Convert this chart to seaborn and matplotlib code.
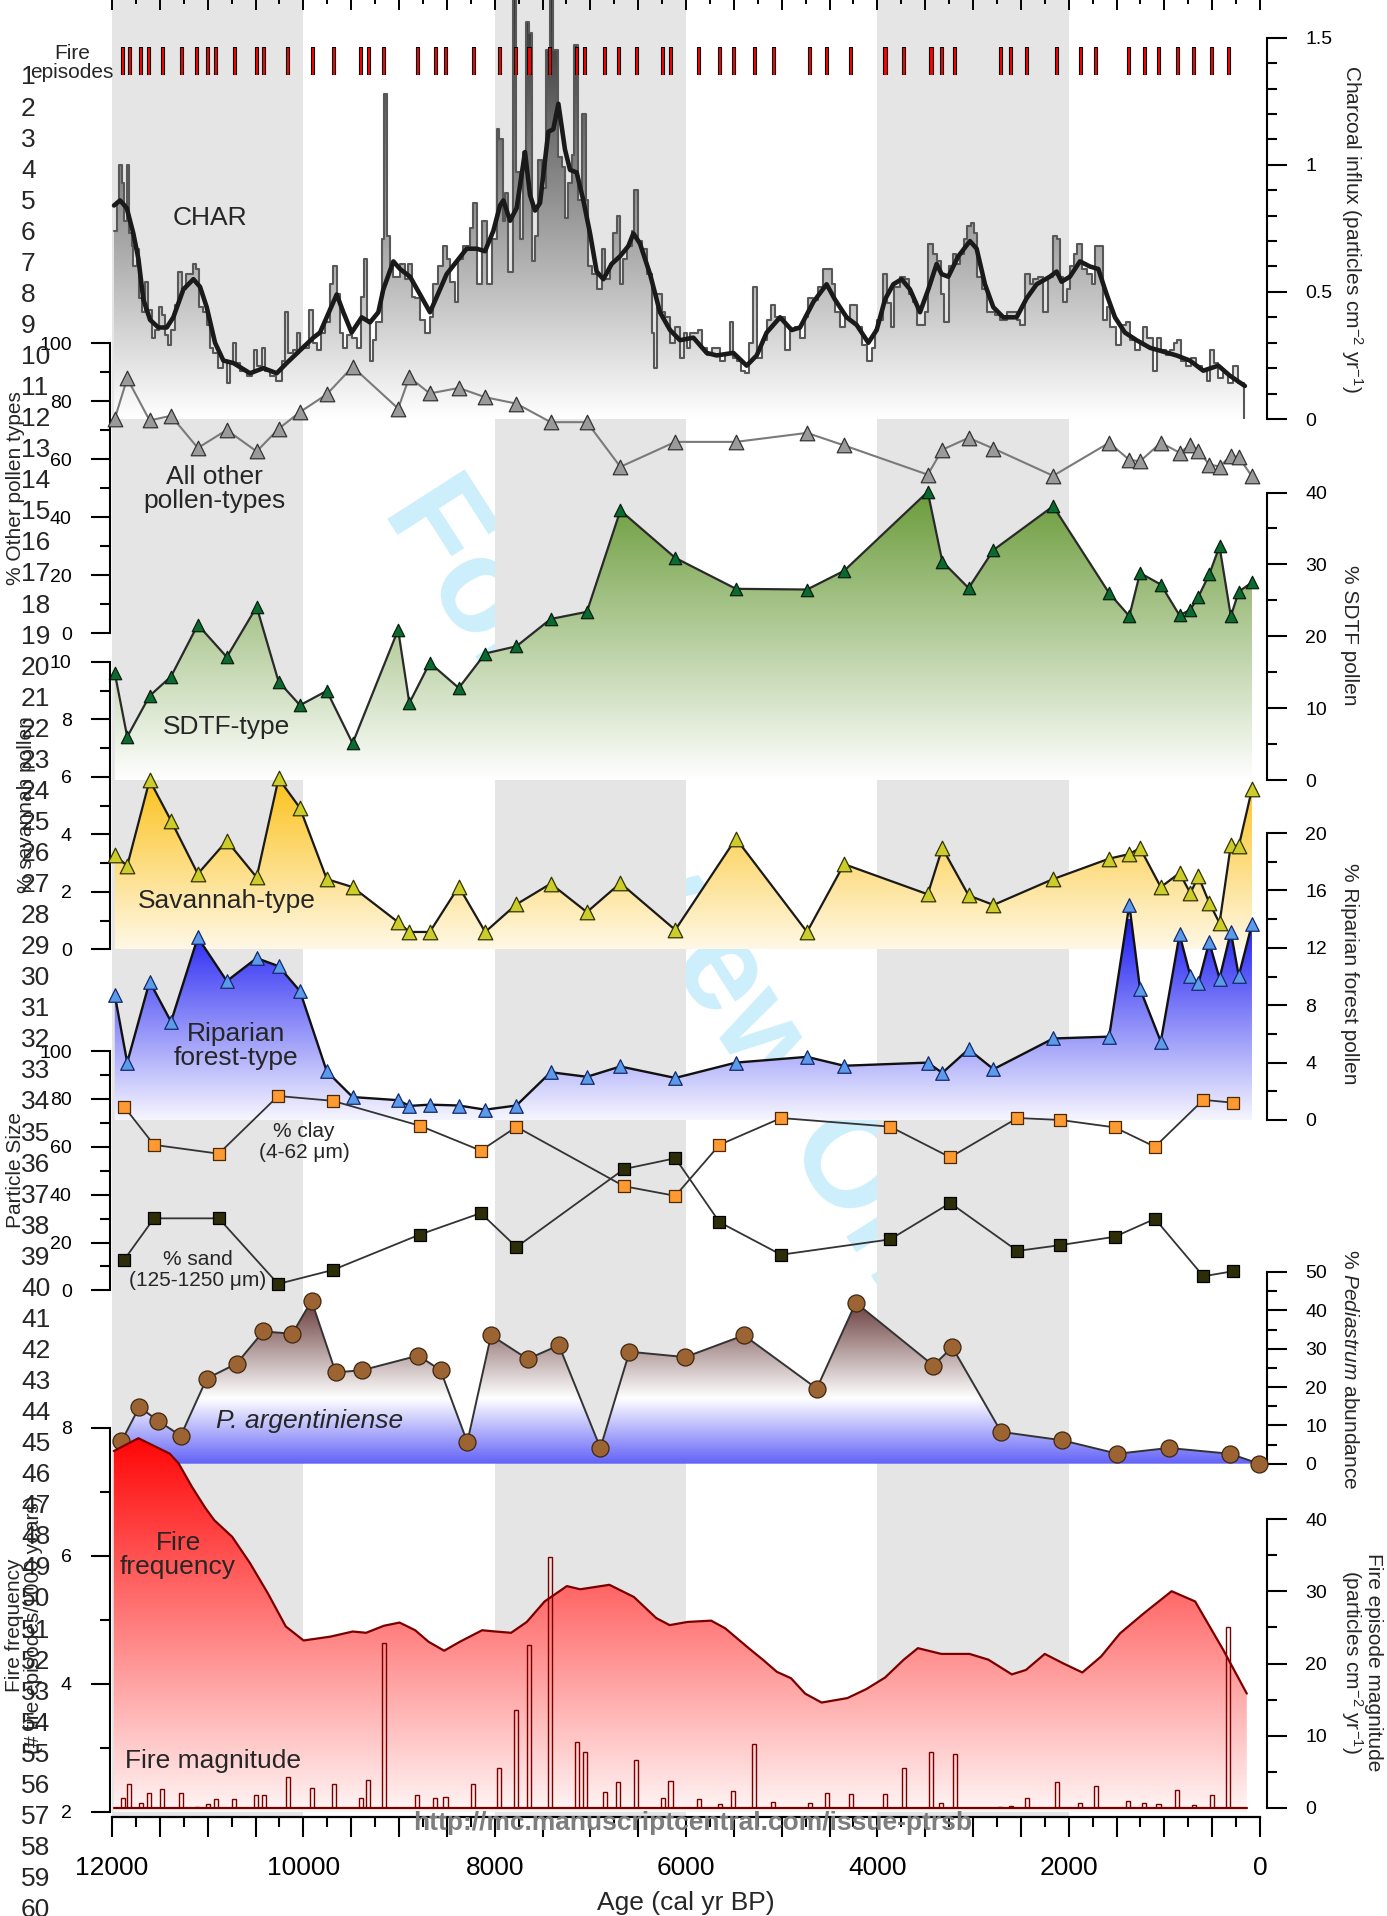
import numpy as np
import matplotlib
matplotlib.use('Agg')
import matplotlib.pyplot as plt
import seaborn as sns
from matplotlib.colors import LinearSegmentedColormap
from matplotlib.ticker import MultipleLocator, FixedLocator, FuncFormatter

# ---------------- data ----------------
band_ranges = [(12000, 10000), (8000, 6000), (4000, 2000)]

fire_age = [11888, 11818, 11701, 11617, 11477, 11276, 11113, 11001, 10917, 10721, 10492, 10413, 10161, 9905,
            9681, 9401, 9321, 9158, 8808, 8621, 8514, 8224, 7954, 7781, 7641, 7422, 7142, 7058, 6848, 6708,
            6521, 6241, 6162, 5868, 5649, 5507, 5286, 5089, 4706, 4529, 4279, 3920, 3724, 3439, 3331, 3193,
            2717, 2604, 2437, 2127, 1877, 1719, 1376, 1208, 1061, 865, 693, 506, 334]
fire_mag = [1.4, 3.3, 0.7, 2.1, 2.6, 2.1, 0.1, 0.5, 1.2, 1.2, 1.7, 1.7, 4.2, 2.8, 3.3, 1.3, 3.8, 22.9, 1.8, 1.3,
            1.5, 3.3, 5.5, 13.6, 22.5, 34.8, 9.1, 7.7, 2.2, 3.5, 6.6, 1.3, 3.7, 1.2, 0.5, 2.3, 8.9, 0.8, 0.7, 2.1,
            1.9, 1.9, 5.5, 7.7, 0.7, 7.4, 0.1, 0.2, 1.4, 3.5, 0.7, 3.0, 0.9, 0.7, 0.5, 2.5, 0.4, 1.7, 25.0]

char_age = [11979, 11951, 11923, 11899, 11874, 11846, 11818, 11794, 11777, 11742, 11714, 11690, 11655, 11620,
            11585, 11550, 11505, 11480, 11446, 11411, 11386, 11341, 11306, 11271, 11226, 11156, 11122, 11087,
            11045, 11010, 10975, 10940, 10888, 10843, 10801, 10766, 10738, 10704, 10662, 10592, 10540, 10515,
            10488, 10435, 10400, 10348, 10285, 10226, 10191, 10157, 10104, 10062, 10035, 9937, 9895, 9853, 9819,
            9773, 9721, 9686, 9644, 9617, 9582, 9540, 9495, 9442, 9401, 9366, 9338, 9303, 9275, 9240, 9181,
            9157, 9122, 9094, 9059, 8989, 8937, 8902, 8867, 8833, 8780, 8728, 8676, 8641, 8589, 8537, 8502,
            8467, 8415, 8380, 8327, 8258, 8223, 8188, 8136, 8084, 8031,
            7979, 7951, 7916, 7892, 7857, 7812, 7777, 7735, 7700, 7672, 7637, 7613, 7578, 7543, 7508, 7463,
            7421, 7387, 7334, 7299, 7265, 7230, 7195, 7167, 7125, 7090, 7045, 7021, 6986, 6934, 6881, 6846,
            6794, 6759, 6725, 6690, 6655, 6620, 6568, 6543, 6498, 6463, 6411, 6359, 6334, 6299, 6254, 6219,
            6167, 6115, 6063, 6021, 5986, 5958, 5871, 5836, 5784, 5732, 5645, 5592, 5540, 5512, 5470, 5429,
            5383, 5338, 5296, 5261, 5209, 5157, 5115, 5070, 4965, 4913, 4861, 4808, 4756, 4721, 4669, 4617,
            4565, 4477, 4443, 4390, 4338, 4286, 4216, 4164, 4112, 4059,
            4025, 4000, 3945, 3896, 3861, 3826, 3763, 3711, 3666, 3631, 3582, 3502, 3467, 3415, 3380, 3338,
            3304, 3248, 3213, 3178, 3136, 3095, 3060, 3025, 2990, 2962, 2910, 2858, 2770, 2718, 2649, 2544,
            2509, 2457, 2405, 2370, 2318, 2265, 2213, 2161, 2126, 2091, 2063, 2021, 1987, 1945, 1910, 1865,
            1812, 1760, 1725, 1638, 1603, 1568, 1506, 1457, 1401, 1359, 1307, 1255, 1220, 1178, 1116, 1081,
            1035, 983, 941, 899, 872, 830, 774, 725, 670, 610, 558, 523, 481, 436, 384, 332, 280, 227]
char_val = [0.74, 0.85, 1.0, 0.93, 0.78, 1.0, 0.73, 0.68, 0.60, 0.67, 0.475, 0.42, 0.54, 0.43,
            0.32, 0.35, 0.44, 0.41, 0.33, 0.29, 0.35, 0.45, 0.58, 0.51, 0.57, 0.61, 0.59, 0.44,
            0.42, 0.37, 0.28, 0.26, 0.20, 0.23, 0.14, 0.22, 0.30, 0.22, 0.19, 0.17, 0.18, 0.27,
            0.21, 0.28, 0.19, 0.17, 0.15, 0.23, 0.42, 0.26, 0.27, 0.34, 0.28, 0.43, 0.30, 0.27, 0.34,
            0.38, 0.53, 0.60, 0.49, 0.34, 0.28, 0.33, 0.32, 0.28, 0.48, 0.63, 0.39, 0.23, 0.31, 0.38, 0.71,
            1.28, 0.72, 0.60, 0.56, 0.61, 0.55, 0.61, 0.48, 0.475, 0.39, 0.34, 0.40, 0.53, 0.60, 0.68, 0.63,
            0.54, 0.46, 0.63, 0.68, 0.75, 0.85, 0.53, 0.78, 0.53, 0.71,
            1.14, 1.10, 0.78, 0.89, 0.58, 1.9, 0.97, 0.71, 1.05, 1.56, 1.52, 0.62, 0.72, 1.02, 0.91, 1.45,
            1.8, 1.45, 1.03, 0.99, 0.79, 0.93, 1.04, 1.47, 0.86, 1.20, 0.86, 0.60, 0.57, 0.51, 0.67, 0.55,
            0.61, 0.73, 0.80, 0.53, 0.63, 0.68, 0.74, 0.90, 0.70, 0.67, 0.57, 0.34, 0.20, 0.49, 0.42, 0.40,
            0.30, 0.36, 0.24, 0.34, 0.28, 0.34, 0.35, 0.28, 0.25, 0.28, 0.23, 0.26, 0.38, 0.24, 0.23, 0.19,
            0.18, 0.30, 0.52, 0.24, 0.31, 0.39, 0.45, 0.40, 0.27, 0.35, 0.36, 0.32, 0.40, 0.475, 0.47, 0.52,
            0.59, 0.53, 0.42, 0.36, 0.40, 0.45, 0.36, 0.29, 0.23, 0.28,
            0.35, 0.39, 0.57, 0.455, 0.36, 0.52, 0.56, 0.55, 0.49, 0.46, 0.37, 0.42, 0.69, 0.65, 0.62, 0.49,
            0.38, 0.60, 0.65, 0.61, 0.65, 0.71, 0.76, 0.77, 0.73, 0.56, 0.51, 0.42, 0.41, 0.39, 0.42, 0.39,
            0.37, 0.57, 0.53, 0.55, 0.56, 0.42, 0.56, 0.72, 0.71, 0.56, 0.46, 0.51, 0.60, 0.65, 0.69, 0.59,
            0.57, 0.53, 0.68, 0.39, 0.44, 0.36, 0.29, 0.37, 0.38, 0.31, 0.27, 0.30, 0.36, 0.32, 0.19, 0.32,
            0.27, 0.25, 0.27, 0.30, 0.31, 0.23, 0.21, 0.24, 0.21, 0.19, 0.15, 0.27, 0.22, 0.16, 0.18, 0.14, 0.21, 0.14]
char_end_age = 168

char_smooth_age = [11979, 11916, 11846, 11777, 11724, 11672, 11602, 11515, 11428, 11359, 11254, 11149, 11080,
                   11010, 10923, 10836, 10731, 10557, 10418, 10278, 10174, 10035, 9895, 9826, 9721, 9651, 9582,
                   9495, 9390, 9303, 9216, 9164, 9059, 8989, 8885, 8780, 8676, 8606, 8502, 8397, 8293, 8188,
                   8101, 8014, 7944, 7909, 7839, 7770, 7683, 7630, 7578, 7526, 7439, 7387, 7334, 7265, 7212,
                   7143, 7073, 7003, 6934, 6864, 6777, 6690, 6603, 6550, 6481, 6376, 6272, 6167, 6063, 5923,
                   5784, 5679, 5505, 5366, 5261, 5157, 5017, 4895, 4808, 4669, 4530, 4443, 4321, 4216, 4094,
                   4007, 3920, 3833, 3746, 3659, 3554, 3467, 3380, 3328, 3258, 3154, 3032, 2962, 2875, 2788,
                   2683, 2544, 2439, 2335, 2196, 2126, 2074, 1987, 1882, 1778, 1690, 1603, 1516, 1412, 1290,
                   1150, 1011, 872, 733, 593, 436, 314, 158]
char_smooth_val = [0.84, 0.86, 0.83, 0.73, 0.63, 0.47, 0.39, 0.36, 0.36, 0.40, 0.51, 0.55, 0.52,
                   0.44, 0.30, 0.23, 0.22, 0.18, 0.20, 0.18, 0.22, 0.27, 0.32, 0.34, 0.43, 0.49, 0.42,
                   0.34, 0.40, 0.38, 0.42, 0.51, 0.62, 0.59, 0.56, 0.49, 0.42, 0.48, 0.57, 0.62, 0.67, 0.67,
                   0.66, 0.74, 0.84, 0.86, 0.78, 0.83, 1.05, 0.88, 0.82, 0.85, 1.13, 1.14, 1.24, 1.06, 0.98,
                   0.97, 0.86, 0.73, 0.58, 0.55, 0.61, 0.64, 0.68, 0.73, 0.69, 0.57, 0.42, 0.35, 0.31, 0.32,
                   0.26, 0.25, 0.26, 0.21, 0.25, 0.34, 0.40, 0.35, 0.36, 0.46, 0.53, 0.47, 0.40, 0.37, 0.30,
                   0.35, 0.47, 0.53, 0.55, 0.51, 0.42, 0.51, 0.61, 0.57, 0.56, 0.64, 0.70, 0.67, 0.53, 0.44,
                   0.40, 0.40, 0.475, 0.53, 0.56, 0.58, 0.54, 0.56, 0.62, 0.60, 0.59, 0.49, 0.40, 0.34, 0.31,
                   0.28, 0.265, 0.25, 0.23, 0.19, 0.21, 0.17, 0.13]

pollen_age = [11971, 11841, 11607, 11383, 11103, 10800, 10488, 10259, 10035, 9755, 9485, 9009, 8892, 8678,
              8375, 8099, 7773, 7414, 7036, 6686, 6112, 5478, 4735, 4348, 3473, 3321, 3046, 2786, 2162, 1577,
              1366, 1254, 1037, 841, 728, 644, 531, 423, 305, 222, 84]
other_pct = [73.9, 87.8, 73.3, 74.9, 63.8, 70.0, 62.6, 70.4, 76.2, 82.3, 91.8, 77.4, 88.2, 82.6, 84.5, 81.3,
             79.1, 72.7, 72.7, 57.3, 65.9, 65.9, 69.0, 64.7, 54.6, 63.2, 67.3, 63.6, 54.2, 65.6, 59.7, 59.2,
             65.6, 62.2, 64.8, 62.9, 58.1, 57.4, 61.1, 60.6, 54.0]
sdtf_pct = [14.9, 6.0, 11.7, 14.4, 21.6, 17.1, 24.1, 13.7, 10.4, 12.4, 5.1, 20.9, 10.7, 16.3, 12.8, 17.6,
            18.6, 22.4, 23.4, 37.5, 30.9, 26.6, 26.5, 29.1, 40.1, 30.4, 26.7, 32.0, 38.1, 26.0, 22.8, 28.8,
            27.2, 22.9, 23.7, 25.5, 28.6, 32.5, 22.8, 26.2, 27.5]
savannah_pct = [3.28, 2.91, 5.89, 4.48, 2.63, 3.78, 2.51, 5.95, 4.92, 2.45, 2.17, 0.95, 0.61, 0.61, 2.19,
                0.61, 1.57, 2.29, 1.30, 2.31, 0.68, 3.86, 0.61, 2.97, 1.92, 3.53, 1.88, 1.55, 2.45, 3.16,
                3.32, 3.53, 2.17, 2.66, 1.96, 2.54, 1.63, 0.92, 3.63, 3.59, 5.58]
riparian_pct = [8.72, 4.0, 9.65, 6.85, 12.72, 9.68, 11.28, 10.72, 8.98, 3.39, 1.6, 1.38, 0.98, 1.07, 1.01,
                0.72, 1.01, 3.33, 3.01, 3.73, 2.93, 4.0, 4.4, 3.78, 4.0, 3.28, 4.93, 3.54, 5.68, 5.81, 15.0,
                9.14, 5.46, 12.93, 10.05, 9.52, 12.40, 9.86, 13.11, 10.05, 13.65]

grain_age = [11873, 11561, 10884, 10264, 9694, 8784, 8145, 7772, 6647, 6111, 5650, 5006, 3867, 3238, 2536,
             2089, 1519, 1098, 592, 283]
clay_pct = [76.7, 60.8, 57.1, 81.2, 79.2, 68.8, 58.4, 68.3, 43.5, 39.5, 60.8, 72.0, 68.4, 55.6, 72.0, 71.2,
            68.1, 60.0, 79.6, 78.4]
sand_pct = [12.8, 30.1, 30.1, 2.7, 8.5, 23.3, 32.3, 18.1, 50.7, 55.2, 28.5, 14.9, 21.3, 36.5, 16.5, 18.9,
            22.4, 29.9, 5.9, 8.0]

pedi_age = [11902, 11714, 11514, 11281, 11010, 10698, 10418, 10115, 9914, 9662, 9382, 8799, 8566, 8286, 8038,
            7655, 7329, 6895, 6591, 6008, 5394, 4633, 4225, 3414, 3217, 2706, 2067, 1490, 955, 314, 10]
pedi_pct = [5.8, 14.8, 11.1, 7.3, 22.2, 26.1, 34.5, 33.9, 42.5, 23.8, 24.4, 28.2, 24.4, 5.6, 33.5, 27.3, 30.9,
            4.1, 29.2, 27.8, 33.5, 19.6, 42.0, 25.6, 30.4, 8.3, 6.1, 2.6, 4.1, 2.6, 0.0]

ff_age = [11981, 11724, 11398, 11305, 11164, 11024, 10931, 10744, 10558, 10372, 10184, 9998, 9718, 9484, 9344,
          9158, 8994, 8831, 8691, 8528, 8364, 8131, 7991, 7828, 7664, 7478, 7245, 7106, 6801, 6545, 6311, 6171,
          5983, 5737, 5590, 5345, 5197, 5050, 4902, 4755, 4583, 4313, 4116, 3920, 3724, 3576, 3331, 3036, 2839,
          2594, 2446, 2250, 2054, 1857, 1661, 1464, 1218, 924, 678, 383, 138]
ff_val = [7.64, 7.84, 7.6, 7.45, 7.08, 6.75, 6.56, 6.30, 5.89, 5.42, 4.90, 4.68, 4.74, 4.82, 4.80, 4.91, 4.96,
          4.84, 4.66, 4.52, 4.66, 4.84, 4.82, 4.80, 4.97, 5.29, 5.53, 5.48, 5.55, 5.36, 5.03, 4.92, 4.97, 4.99,
          4.87, 4.56, 4.38, 4.19, 4.09, 3.85, 3.71, 3.78, 3.92, 4.10, 4.38, 4.56, 4.47, 4.47, 4.38, 4.15, 4.22,
          4.47, 4.32, 4.18, 4.43, 4.79, 5.10, 5.45, 5.29, 4.53, 3.85]

# ---------------- setup ----------------
sns.set_theme(style='white')
plt.rcParams['font.family'] = ['Liberation Sans', 'DejaVu Sans']
plt.rcParams['mathtext.fontset'] = 'custom'
plt.rcParams['mathtext.rm'] = 'Liberation Sans'
plt.rcParams['mathtext.it'] = 'Liberation Sans:italic'
plt.rcParams['mathtext.default'] = 'regular'
plt.rcParams['lines.solid_joinstyle'] = 'round'

W, H = 1387, 1916
fig = plt.figure(figsize=(W / 100, H / 100), dpi=100)
fig.patch.set_facecolor('white')
X0, X1 = 112, 1260


def rect(ytop, ybot, x0=X0, x1=X1):
    return [x0 / W, 1 - ybot / H, (x1 - x0) / W, (ybot - ytop) / H]


def ftext(x, y, s, **kw):
    kw.setdefault('ha', 'center')
    kw.setdefault('va', 'center')
    return fig.text(x / W, 1 - y / H, s, **kw)


def blank(ax):
    ax.set_xlim(12000, 0)
    ax.patch.set_visible(False)
    ax.grid(False)
    for sp in ax.spines.values():
        sp.set_visible(False)
    ax.tick_params(axis='both', which='both', bottom=False, top=False, left=False, right=False,
                   labelbottom=False, labeltop=False, labelleft=False, labelright=False)


def panel(v0, y0, v1, y1, ytop=None, ybot=None):
    ytop = y1 if ytop is None else ytop
    ybot = y0 if ybot is None else ybot
    s = (y0 - y1) / (v1 - v0)
    ax = fig.add_axes(rect(ytop, ybot))
    blank(ax)
    lims = (v0 - (ybot - y0) / s, v1 + (y1 - ytop) / s)
    ax.set_ylim(*lims)
    ax._lims = lims
    return ax


def yaxis(ax, side, lo, hi, major, minor, fmt=None):
    sp = ax.spines[side]
    sp.set_visible(True)
    sp.set_linewidth(1.5)
    sp.set_color('black')
    sp.set_bounds(lo, hi)
    sp.set_position(('outward', 1.5 if side == 'left' else 4.7))
    ax.yaxis.set_major_locator(FixedLocator(np.arange(lo, hi + major / 2, major)))
    ax.yaxis.set_minor_locator(FixedLocator(np.arange(lo, hi + minor / 2, minor)))
    L = side == 'left'
    ax.tick_params(axis='y', which='both', left=L, right=not L, labelleft=L, labelright=not L,
                   direction='out', width=1.5, colors='black')
    ax.tick_params(axis='y', which='major', length=13.5 if L else 14.4, labelsize=14,
                   pad=14 if L else 13.5)
    ax.tick_params(axis='y', which='minor', length=7)
    ax.yaxis.set_major_formatter(FuncFormatter(fmt if fmt else (lambda v, p: f'{v:g}')))


def grad_fill(ax, x, y, base, stops, vlo, vhi, step=None):
    poly = ax.fill_between(x, y, base, step=step, facecolor='none', edgecolor='none', lw=0)
    cmap = LinearSegmentedColormap.from_list('g', stops)
    g = np.linspace(0, 1, 512).reshape(-1, 1)
    im = ax.imshow(g, cmap=cmap, aspect='auto', origin='lower', extent=(12000, 0, vlo, vhi),
                   zorder=1, interpolation='bilinear')
    im.set_clip_path(poly.get_paths()[0], transform=ax.transData)
    ax.set_xlim(12000, 0)
    ax.set_ylim(*ax._lims)


def line(ax, x, y, color, lw=1.5, **kw):
    sns.lineplot(x=x, y=y, ax=ax, color=color, linewidth=lw, sort=False, estimator=None,
                 legend=False, zorder=3, clip_on=False, **kw)


def pts(ax, x, y, marker, color, edge, s):
    sns.scatterplot(x=x, y=y, ax=ax, marker=marker, color=color, edgecolor=edge, linewidth=0.9,
                    s=s, zorder=5, clip_on=False, legend=False)


def fix(ax):
    ax.set_xlim(12000, 0)
    ax.set_ylim(*ax._lims)
    ax.set_xlabel('')
    ax.set_ylabel('')


# watermark (behind everything)
ftext(692, 932, 'For Review Only', rotation=-57.4, rotation_mode='anchor', fontsize=96,
      fontweight='bold', color='#cdeefb', zorder=-5)

# background axes: bands + bottom age axis
bg = fig.add_axes(rect(0, 1817))
blank(bg)
bg.set_ylim(0, 1)
for a, b in band_ranges:
    bg.axvspan(a, b, color='#e5e5e5', lw=0, zorder=0)
bg.spines['bottom'].set_visible(True)
bg.spines['bottom'].set_linewidth(1.6)
bg.spines['bottom'].set_color('black')
bg.xaxis.set_major_locator(MultipleLocator(500))
bg.xaxis.set_minor_locator(MultipleLocator(250))
bg.xaxis.set_major_formatter(FuncFormatter(lambda v, p: f'{int(round(v))}' if round(v) % 2000 == 0 else ''))
bg.tick_params(axis='x', which='both', bottom=True, labelbottom=True, direction='out', width=1.5,
               colors='black')
bg.tick_params(axis='x', which='major', length=14.4, labelsize=19, pad=14)
bg.tick_params(axis='x', which='minor', length=7.2)
ftext(686, 1903, 'Age (cal yr BP)', fontsize=19)

# top tick marks
tt = fig.add_axes(rect(0, 40))
blank(tt)
tt.xaxis.set_major_locator(MultipleLocator(500))
tt.xaxis.set_minor_locator(MultipleLocator(250))
tt.tick_params(axis='x', which='both', top=True, direction='in', width=1.4, colors='black')
tt.tick_params(axis='x', which='major', length=7.2)
tt.tick_params(axis='x', which='minor', length=3)

# ---- CHAR ----
ax_c = panel(0, 419, 1.5, 37.7, ytop=0)
cx = char_age + [char_end_age]
cy = char_val + [char_val[-1]]
grad_fill(ax_c, cx, cy, 0, [(0, 'white'), (1, '#2e2e2e')], 0, 1.65, step='post')
line(ax_c, cx + [char_end_age], cy + [0], '#585858', lw=1.5, drawstyle='steps-post')
for l in ax_c.lines:
    l.set_clip_on(True)
line(ax_c, char_smooth_age, char_smooth_val, '#1a1a1a', lw=3.3)
yaxis(ax_c, 'right', 0, 1.5, 0.5, 0.1)
fix(ax_c)

# ---- fire episodes ----
ax_e = fig.add_axes(rect(46.7, 75))
blank(ax_e)
ax_e.set_ylim(0, 1)
ax_e.bar(fire_age, [1] * len(fire_age), width=32, bottom=0, color='#ff0000', edgecolor='black', linewidth=0.8)
ax_e.set_xlim(12000, 0)

# ---- other pollen ----
ax_o = panel(0, 633, 100, 343)
line(ax_o, pollen_age, other_pct, '#7a7a7a', lw=1.5)
pts(ax_o, pollen_age, other_pct, '^', '#9a9a9a', '#333333', 110)
yaxis(ax_o, 'left', 0, 100, 20, 10)
fix(ax_o)

# ---- SDTF ----
ax_s = panel(0, 780, 40, 492.5)
grad_fill(ax_s, pollen_age, sdtf_pct, 0, [(0, 'white'), (1, '#6b9c3b')], 0, 40)
line(ax_s, pollen_age, sdtf_pct, '#2a2a2a', lw=1.6)
pts(ax_s, pollen_age, sdtf_pct, '^', '#0b6a2f', '#0a1f0f', 80)
yaxis(ax_s, 'right', 0, 40, 10, 5)
fix(ax_s)

# ---- Savannah ----
ax_v = panel(0, 949.5, 10, 662)
grad_fill(ax_v, pollen_age, savannah_pct, 0, [(0, '#fff8e6'), (1, '#fbbf12')], 0, 6.2)
line(ax_v, pollen_age, savannah_pct, '#1a1a1a', lw=1.6)
pts(ax_v, pollen_age, savannah_pct, '^', '#cccc2a', '#333300', 110)
yaxis(ax_v, 'left', 0, 10, 2, 1)
fix(ax_v)

# ---- Riparian ----
ax_r = panel(0, 1120, 20, 833)
grad_fill(ax_r, pollen_age, riparian_pct, 0, [(0, '#f6f6ff'), (1, '#1c1cf2')], 0, 14)
line(ax_r, pollen_age, riparian_pct, '#111111', lw=1.7)
pts(ax_r, pollen_age, riparian_pct, '^', '#5b9bea', '#14286e', 95)
yaxis(ax_r, 'right', 0, 20, 4, 2)
fix(ax_r)

# ---- Particle size ----
ax_p = panel(0, 1290.4, 100, 1051)
line(ax_p, grain_age, clay_pct, '#333333', lw=1.3)
line(ax_p, grain_age, sand_pct, '#333333', lw=1.3)
pts(ax_p, grain_age, clay_pct, 's', '#ff9a33', '#4a2a00', 70)
pts(ax_p, grain_age, sand_pct, 's', '#2d2d08', '#000000', 70)
yaxis(ax_p, 'left', 0, 100, 20, 10)
fix(ax_p)

# ---- Pediastrum ----
ax_d = panel(0, 1463.7, 50, 1272)
grad_fill(ax_d, pedi_age, pedi_pct, 0,
          [(0, '#6262f8'), (0.38, '#ffffff'), (1, '#5a2828')], 0, 45)
line(ax_d, pedi_age, pedi_pct, '#333333', lw=1.4)
pts(ax_d, pedi_age, pedi_pct, 'o', '#9c6433', '#3d2710', 150)
yaxis(ax_d, 'right', 0, 50, 10, 5)
fix(ax_d)

# ---- Fire frequency ----
ax_f = panel(2, 1812, 8, 1428)
grad_fill(ax_f, ff_age, ff_val, 2, [(0, '#fff5f5'), (1, '#ff0000')], 2, 8)
line(ax_f, ff_age, ff_val, '#7a0000', lw=1.6)
yaxis(ax_f, 'left', 2, 8, 2, 1)
fix(ax_f)

# ---- Fire magnitude ----
ax_m = panel(0, 1807.7, 40, 1519.3)
ax_m.bar(fire_age, fire_mag, width=42, bottom=0, facecolor='none', edgecolor='#7a0000', linewidth=1.0,
         zorder=3)
line(ax_m, [ff_age[0], ff_age[-1]], [0, 0], '#7a0000', lw=1.6)
yaxis(ax_m, 'right', 0, 40, 10, 5)
fix(ax_m)

# ---------------- texts ----------------
ftext(72, 63, 'Fire\nepisodes', fontsize=15, linespacing=1.0)
ftext(210, 218, 'CHAR', fontsize=19)
ftext(214, 489, 'All other\npollen-types', fontsize=19, linespacing=1.05)
ftext(226, 727, 'SDTF-type', fontsize=19)
ftext(227, 901, 'Savannah-type', fontsize=19)
ftext(236, 1046, 'Riparian\nforest-type', fontsize=19, linespacing=1.05)
ftext(304, 1142, '% clay\n(4-62 \u03bcm)', fontsize=15, linespacing=1.15)
ftext(198, 1270, '% sand\n(125-1250 \u03bcm)', fontsize=15, linespacing=1.15)
ftext(310, 1421, 'P. argentiniense', fontsize=19, style='italic')
ftext(178, 1555, 'Fire\nfrequency', fontsize=19, linespacing=1.05)
ftext(213, 1761, 'Fire magnitude', fontsize=19)

# axis titles
ftext(1352, 229, 'Charcoal influx (particles cm$^{-2}$ yr$^{-1}$)', fontsize=15, rotation=270)
ftext(1350, 635, '% SDTF pollen', fontsize=15, rotation=270)
ftext(1350, 974, '% Riparian forest pollen', fontsize=15, rotation=270)
ftext(1350, 1369, r'% $\mathit{Pediastrum}$ abundance', fontsize=15, rotation=270)
ftext(1361, 1662, 'Fire episode magnitude\n(particles cm$^{-2}$ yr$^{-1}$)', fontsize=15, rotation=270,
      linespacing=1.0)
ftext(16, 488, '% Other pollen types', fontsize=15, rotation=90)
ftext(27, 805, '% savannah pollen', fontsize=15, rotation=90)
ftext(16, 1170, 'Particle Size', fontsize=15, rotation=90)
ftext(24, 1625, 'Fire frequency\n(# fire episodes/1000 years)', fontsize=15, rotation=90, linespacing=1.0)

# manuscript line numbers
for n in range(1, 61):
    ftext(21, 77.5 + (n - 1) * 31.06, str(n), fontsize=19, ha='left', zorder=10)

ftext(693, 1823, 'http://mc.manuscriptcentral.com/issue-ptrsb', fontsize=19, fontweight='bold',
      color='#7d7d7d', zorder=10)

fig.savefig('out.png', dpi=100, facecolor='white')
